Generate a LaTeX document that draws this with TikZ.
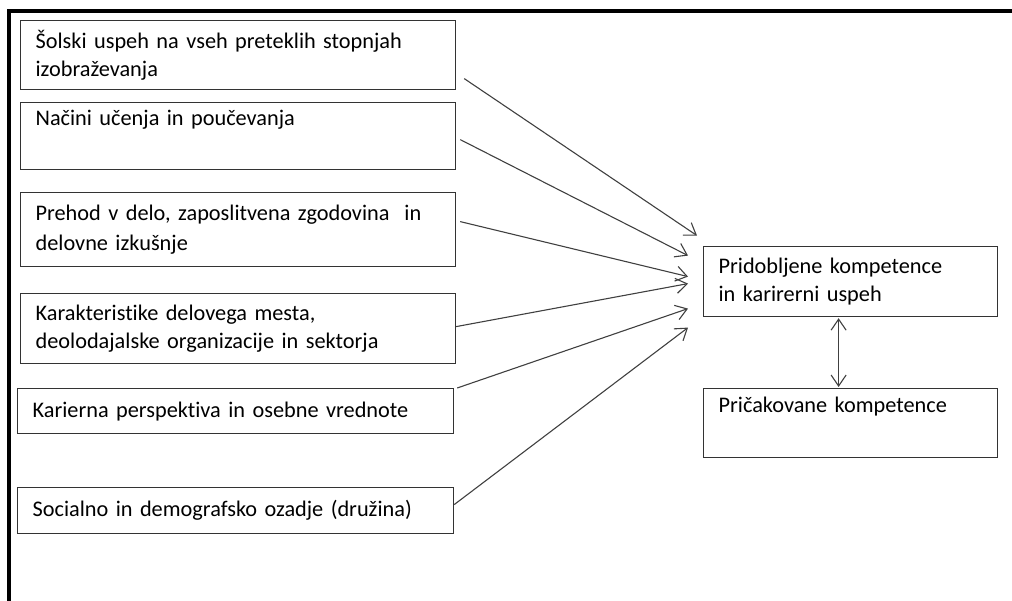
\documentclass[tikz,border=0pt]{standalone}
\usepackage{fontspec}
\setmainfont{Carlito}[Ligatures=NoCommon]
\usetikzlibrary{arrows.meta,calc}
\tikzset{
  box/.style={draw=black!80, line width=1.2pt, rectangle, anchor=north west,
    inner xsep=15pt, inner ysep=2pt, align=left,
    font=\fontsize{22.3pt}{28pt}\selectfont},
  conn/.style={draw=black!75, line width=1.1pt,
    -{Straight Barb[length=11pt,width=15pt,line width=1.1pt]}},
  dconn/.style={draw=black!75, line width=1.1pt,
    {Straight Barb[length=11pt,width=15pt,line width=1.1pt]}-{Straight Barb[length=11pt,width=15pt,line width=1.1pt]}},
}
\begin{document}
\begin{tikzpicture}[x=1pt,y=-1pt]
\useasboundingbox (0,0) rectangle (1012,601);
% frame
\draw[line width=4pt] (9,601) -- (9,11) -- (1012,11);
% left boxes
\node[box, minimum width=435pt, minimum height=69pt, text width=405pt] (b1) at (20,20)
  {Šolski uspeh na vseh preteklih stopnjah\\izobraževanja};
\node[box, minimum width=435pt, minimum height=67pt, text width=405pt] (b2) at (20,102)
  {Načini učenja in poučevanja\\\strut};
\node[box, minimum width=435pt, minimum height=74pt, text width=405pt, font=\fontsize{22.3pt}{30pt}\selectfont] (b3) at (20,192)
  {Prehod v delo, zaposlitvena zgodovina\ \ in\\delovne izkušnje};
\node[box, minimum width=435pt, minimum height=70pt, text width=405pt] (b4) at (20,293)
  {Karakteristike delovega mesta,\\deolodajalske organizacije in sektorja};
\node[box, minimum width=436pt, minimum height=45pt, text width=406pt] (b5) at (17,388)
  {Karierna perspektiva in osebne vrednote};
\node[box, minimum width=436pt, minimum height=46pt, text width=406pt] (b6) at (17,487)
  {Socialno in demografsko ozadje (družina)};
% right boxes
\node[box, minimum width=294pt, minimum height=70pt, text width=264pt] (A) at (703,246)
  {Pridobljene kompetence\\in karirerni uspeh};
\node[box, minimum width=294pt, minimum height=69pt, text width=264pt] (B) at (703,388)
  {Pričakovane kompetence\\\strut};
% connectors
\draw[conn] ($(b1.east)+(8,23.5)$) -- ($(A.west)+(-6,-46)$);
\draw[conn] ($(b2.east)+(4,3.5)$) -- ($(A.west)+(-15,-26)$);
\draw[conn] ($(b3.east)+(4,-8)$) -- ($(A.west)+(-15,-5)$);
\draw[conn] ($(b4.east)+(0,-2)$) -- ($(A.west)+(-15,2)$);
\draw[conn] ($(b5.north east)+(3,0)$) -- ($(A.west)+(-15,27)$);
\draw[conn] ($(b6.east)+(0,-6)$) -- ($(A.west)+(-15,46)$);
\draw[dconn] ($(A.south)+(-12,1)$) -- ($(B.north)+(-12,-1)$);
\end{tikzpicture}
\end{document}
